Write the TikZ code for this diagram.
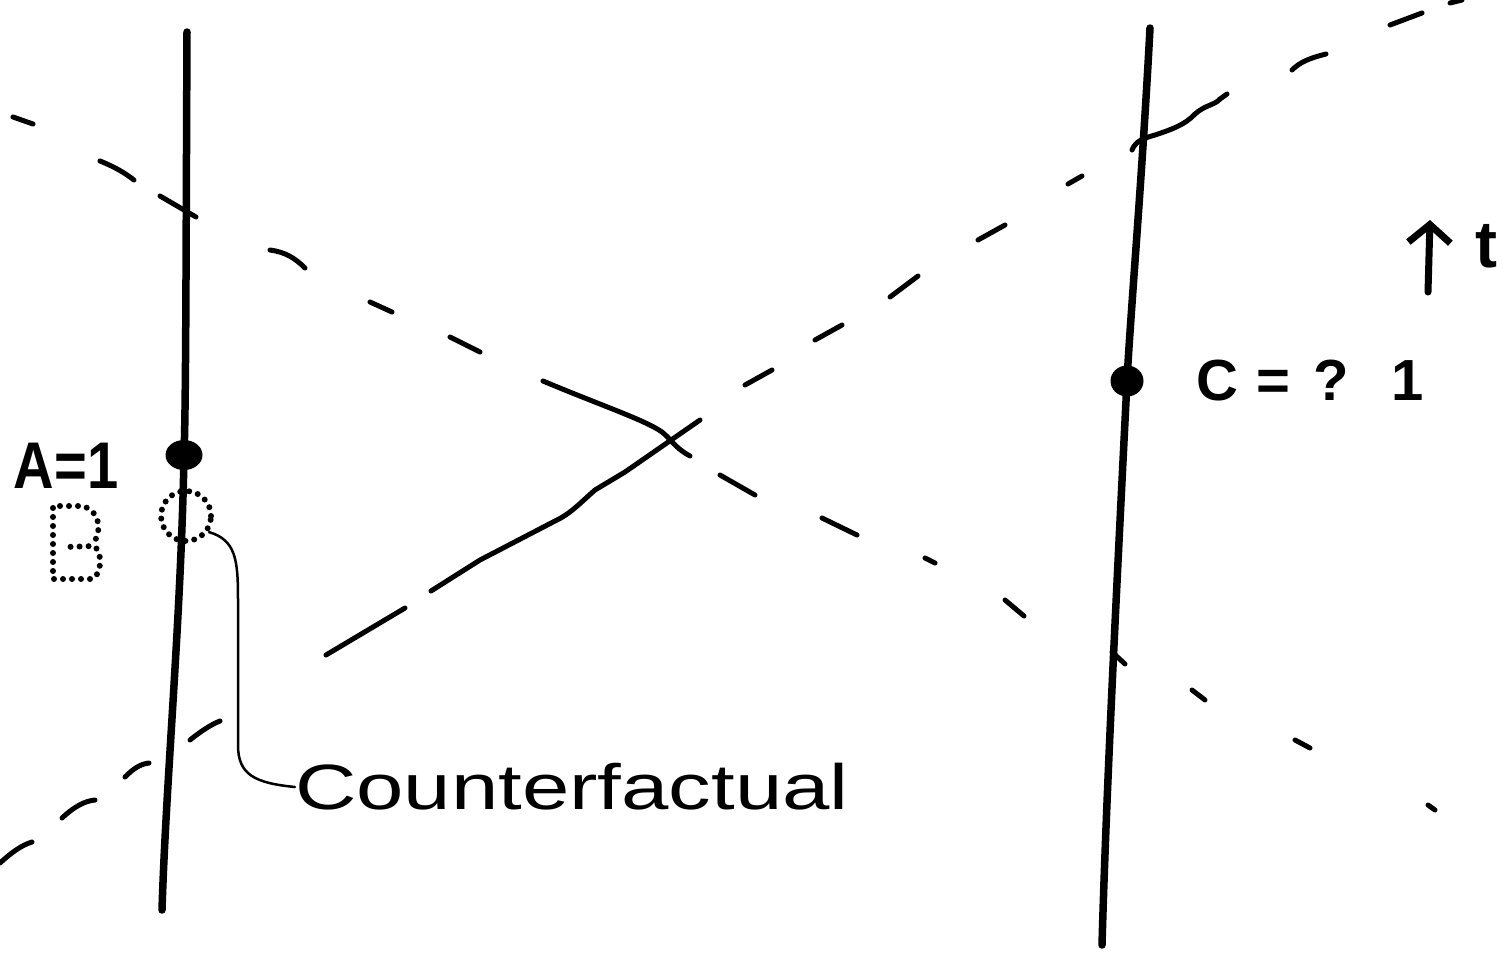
\documentclass[tikz,border=0pt]{standalone}
\usepackage{fontspec}
\setmainfont{Liberation Sans}
\usetikzlibrary{arrows.meta,shapes.geometric}
\begin{document}
\begin{tikzpicture}[x=1pt,y=-1pt,
  world/.style={line width=7.5pt, line cap=round, line join=round},
  ray/.style={line width=5pt, line cap=round},
  thin connector/.style={line width=2.5pt, line cap=round},
  dotmark/.style={ellipse, fill=black, minimum width=37pt, minimum height=30pt, inner sep=0pt},
  dotted outline/.style={line width=6pt, line cap=round, dash pattern=on 0pt off 9pt},
  label text/.style={inner sep=0pt, text=black}]
\useasboundingbox (0,0) rectangle (1507,956);
\fill[white] (0,0) rectangle (1507,956);

% world lines
\draw[world] (187,32) .. controls (186,250) and (186,400) .. (184,455)
  .. controls (181,620) and (166,780) .. (162,910);
\draw[world] (1150,28) .. controls (1142,180) and (1130,320) .. (1127,381)
  .. controls (1116,600) and (1106,800) .. (1102,945);

% events
\node[dotmark] (A) at (184,455) {};
\node[dotmark, minimum width=33pt, minimum height=31pt] (C) at (1127,381) {};
\node[circle, draw, dotted outline, minimum size=50pt, inner sep=0pt] (cf) at (186,516) {};

% dotted B
\draw[dotted outline] (53,508) -- (53,579) -- (92,579)
  .. controls (102,575) and (103,552) .. (94,546) -- (66,547);
\draw[dotted outline] (60,506) -- (82,506)
  .. controls (100,510) and (103,532) .. (92,545);

% labels
\node[label text, font=\bfseries\fontsize{66}{80}\selectfont] (Alab) at (66,466) {\scalebox{0.85}[1]{A=1}};
\node[label text, font=\bfseries\fontsize{58}{72}\selectfont, anchor=west] (Clab) at (1196,381) {C\hspace{18pt}=\hspace{24pt}?\hspace{42pt}1};
\node[label text, font=\fontsize{64}{80}\selectfont, anchor=west] (cft) at (295,787) {\scalebox{1.33}[1]{Counterfactual}};
\node[label text, font=\bfseries\fontsize{66}{80}\selectfont] (t) at (1486,246) {t};

% time arrow
\coordinate (tb) at (1428,292);
\coordinate (tt) at (1430,220);
\draw[line width=7pt, line cap=round, -{Straight Barb[length=18pt,width=42pt,line width=7pt]}] (tb) -- (tt);

% connector to counterfactual
\draw[thin connector] (cf.-35) .. controls (236,540) and (238,560) .. (238,600)
  -- (238,745) .. controls (238,775) and (255,783) .. (cft.west);

% descending light ray
\draw[ray] (13,117) -- (33,124);
\draw[ray] (100,161) .. controls (115,167) and (125,173) .. (134,180);
\draw[ray] (160,196) -- (196,217);
\draw[ray] (270,250) .. controls (285,252) and (295,258) .. (305,268);
\draw[ray] (370,302) -- (392,312);
\draw[ray] (450,337) -- (480,352);
\draw[ray] (543,381) .. controls (600,405) and (645,420) .. (662,432)
  .. controls (672,440) and (675,448) .. (690,456);
\draw[ray] (720,475) -- (755,495);
\draw[ray] (822,518) -- (857,535);
\draw[ray] (925,558) -- (935,563);
\draw[ray] (1005,600) -- (1024,616);
\draw[ray] (1112,652) -- (1125,664);
\draw[ray] (1192,690) -- (1205,700);
\draw[ray] (1295,740) -- (1310,748);
\draw[ray] (1428,805) -- (1435,810);

% ascending light ray
\draw[ray] (0,863) .. controls (12,852) and (22,845) .. (32,842);
\draw[ray] (62,818) .. controls (75,806) and (85,801) .. (95,800);
\draw[ray] (125,777) .. controls (133,769) and (140,764) .. (149,763);
\draw[ray] (190,740) .. controls (200,732) and (210,725) .. (220,721);
\draw[ray] (326,655) -- (405,608);
\draw[ray] (431,591) -- (480,560) -- (555,521) .. controls (570,514) and (578,505) .. (595,490)
  -- (625,472) -- (700,420);
\draw[ray] (745,385) -- (772,370);
\draw[ray] (815,340) -- (842,325);
\draw[ray] (890,297) -- (918,276);
\draw[ray] (978,240) -- (1005,225);
\draw[ray] (1068,184) -- (1082,176);
\draw[ray] (1132,150) .. controls (1136,140) and (1145,138) .. (1155,135)
  .. controls (1170,130) and (1185,125) .. (1195,114)
  .. controls (1205,105) and (1215,105) .. (1220,99) -- (1227,94);
\draw[ray] (1292,70) .. controls (1300,62) and (1310,58) .. (1326,54);
\draw[ray] (1390,25) -- (1422,13);
\draw[ray] (1450,3) -- (1462,0);
\end{tikzpicture}
\end{document}
